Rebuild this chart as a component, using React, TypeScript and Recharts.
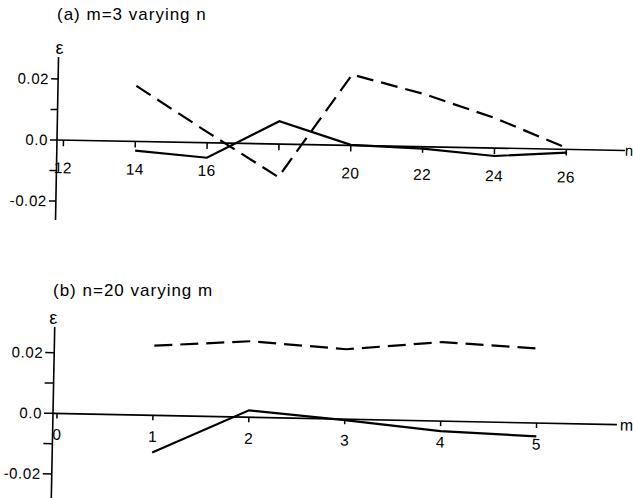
import React from 'react';
import { LineChart, Line, XAxis, YAxis, ReferenceLine } from 'recharts';

// Panel (a): m=3, varying n
const nValues = [14, 16, 18, 20, 22, 24, 26];
const dashedA = [0.0182, 0.0035, -0.0108, 0.0232, 0.0173, 0.0098, 0.0005];
const solidA = [-0.003, -0.0049, 0.0075, 0.0002, -0.0006, -0.0026, -0.0011];
const nTicks = [12, 14, 16, 18, 20, 22, 24, 26];
const nTickLabels = ['12', '14', '16', '', '20', '22', '24', '26'];

// Panel (b): n=20, varying m
const mValues = [1, 2, 3, 4, 5];
const dashedB = [0.023, 0.0251, 0.0231, 0.0261, 0.0246];
const solidB = [-0.0123, 0.0023, -0.0003, -0.0033, -0.0044];
const mTicks = [0, 1, 2, 3, 4, 5];
const mTickLabels = ['0', '1', '2', '3', '4', '5'];

const yTicks = [-0.02, -0.01, 0, 0.01, 0.02];
const yTickLabels = ['-0.02', '', '0.0', '', '0.02'];

const titleA = '(a) m=3 varying n';
const titleB = '(b) n=20 varying m';

const dataA = nValues.map((n, i) => ({ n, dashed: dashedA[i], solid: solidA[i] }));
const dataB = mValues.map((m, i) => ({ m, dashed: dashedB[i], solid: solidB[i] }));

const FONT = '"Liberation Sans", Arial, Helvetica, sans-serif';
const yFmt = (v: number) => {
  const i = yTicks.findIndex((t) => Math.abs(t - v) < 1e-9);
  return i >= 0 ? yTickLabels[i] : '';
};

export default function App() {
  return (
    <div
      style={{
        position: 'absolute',
        left: 0,
        top: 0,
        width: 633,
        height: 498,
        overflow: 'hidden',
        background: '#fff',
        fontFamily: FONT,
      }}
    >
      <div
        style={{
          position: 'absolute',
          left: 0,
          top: 0,
          width: 633,
          height: 250,
          transform: 'rotate(1.05deg)',
          transformOrigin: '57px 140px',
        }}
      >
        <LineChart width={633} height={250} data={dataA} margin={{ top: 57, right: 8, bottom: 30, left: 0 }}>
          <XAxis type="number" dataKey="n" domain={[11.82, 27.63]} allowDataOverflow hide />
          <YAxis
            type="number"
            domain={[-0.0262, 0.0272]}
            allowDataOverflow
            ticks={yTicks}
            tickFormatter={yFmt}
            width={57}
            tickSize={7}
            axisLine={{ stroke: '#000', strokeWidth: 1.6 }}
            tickLine={{ stroke: '#000', strokeWidth: 1.5 }}
            tick={{ fill: '#000', fontSize: 15, fontFamily: FONT, letterSpacing: 0.6 }}
          />
          <ReferenceLine
            y={0}
            stroke="#000"
            strokeWidth={1.6}
            label={{ value: 'n', position: 'right', offset: 0, fill: '#000', fontSize: 15, fontFamily: FONT }}
          />
          {nTicks.map((t, i) => (
            <ReferenceLine
              key={'ta' + t}
              segment={[
                { x: t, y: 0 },
                { x: t, y: -0.002 },
              ]}
              stroke="#000"
              strokeWidth={1.5}
              label={{ value: nTickLabels[i], position: 'bottom', offset: 16, fill: '#000', fontSize: 15.5, fontFamily: FONT, letterSpacing: 0.4 }}
            />
          ))}
          <Line type="linear" dataKey="solid" stroke="#000" strokeWidth={2.2} dot={false} isAnimationActive={false} />
          <Line
            type="linear"
            dataKey="dashed"
            stroke="#000"
            strokeWidth={2.2}
            strokeDasharray="17 8"
            dot={false}
            isAnimationActive={false}
          />
        </LineChart>
      </div>

      <div
        style={{
          position: 'absolute',
          left: 0,
          top: 250,
          width: 633,
          height: 265,
          transform: 'rotate(1.15deg)',
          transformOrigin: '53px 163px',
        }}
      >
        <LineChart width={633} height={265} data={dataB} margin={{ top: 77, right: 16, bottom: 5, left: 0 }}>
          <XAxis type="number" dataKey="m" domain={[-0.042, 5.837]} allowDataOverflow hide />
          <YAxis
            type="number"
            domain={[-0.0319, 0.0285]}
            allowDataOverflow
            ticks={yTicks}
            tickFormatter={yFmt}
            width={53}
            tickSize={9}
            axisLine={{ stroke: '#000', strokeWidth: 1.6 }}
            tickLine={{ stroke: '#000', strokeWidth: 1.5 }}
            tick={{ fill: '#000', fontSize: 15, fontFamily: FONT, letterSpacing: 0.6 }}
          />
          <ReferenceLine
            y={0}
            stroke="#000"
            strokeWidth={1.6}
            label={{ value: 'm', position: 'right', offset: 3, fill: '#000', fontSize: 16, fontFamily: FONT }}
          />
          {mTicks.map((t, i) => (
            <ReferenceLine
              key={'tb' + t}
              segment={[
                { x: t, y: 0 },
                { x: t, y: -0.00165 },
              ]}
              stroke="#000"
              strokeWidth={1.5}
              label={{ value: mTickLabels[i], position: 'bottom', offset: 10.5, fill: '#000', fontSize: 15.5, fontFamily: FONT }}
            />
          ))}
          <Line type="linear" dataKey="solid" stroke="#000" strokeWidth={2.2} dot={false} isAnimationActive={false} />
          <Line
            type="linear"
            dataKey="dashed"
            stroke="#000"
            strokeWidth={2.2}
            strokeDasharray="18 8"
            dot={false}
            isAnimationActive={false}
          />
        </LineChart>
      </div>

      <svg width={633} height={498} style={{ position: 'absolute', left: 0, top: 0, pointerEvents: 'none' }}>
        <text x={57} y={20} fontSize={17} fontFamily={FONT} letterSpacing={1} fill="#000">
          {titleA}
        </text>
        <text x={53} y={296} fontSize={17} fontFamily={FONT} letterSpacing={1} fill="#000">
          {titleB}
        </text>
        <text x={59.6} y={53.5} fontSize={18} fontFamily={FONT} textAnchor="middle" fill="#000">
          ε
        </text>
        <text x={53.3} y={324} fontSize={18} fontFamily={FONT} textAnchor="middle" fill="#000">
          ε
        </text>
      </svg>
    </div>
  );
}
